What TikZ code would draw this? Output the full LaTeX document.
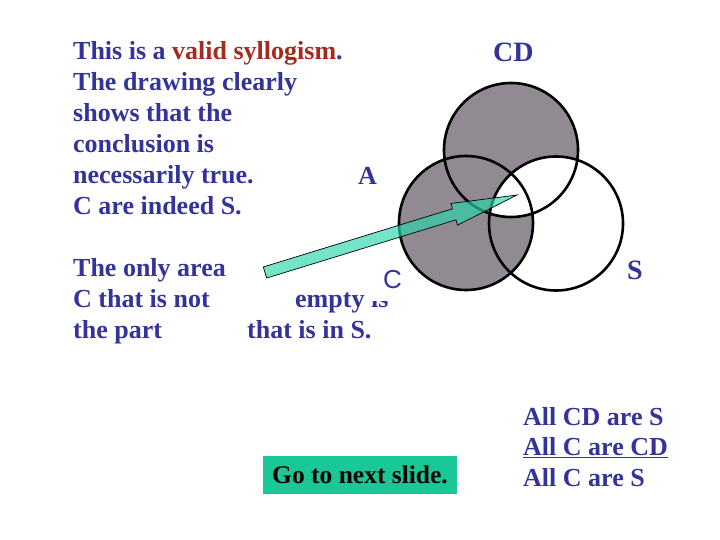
\documentclass[tikz,border=0pt]{standalone}
\usepackage{fontspec}
\setmainfont{Liberation Serif}
\setsansfont{Liberation Sans}
\usetikzlibrary{calc}
\definecolor{txtblue}{RGB}{51,51,153}
\definecolor{txtred}{RGB}{165,42,30}
\definecolor{venngray}{RGB}{146,138,146}
\definecolor{arrowteal}{RGB}{40,214,171}
\definecolor{btngreen}{RGB}{25,200,150}

\begin{document}
\begin{tikzpicture}[x=1bp,y=-1bp,
  txt/.style={text=txtblue,inner sep=0pt,font=\fontsize{26bp}{31bp}\selectfont\bfseries},
  lbl/.style={txt,font=\fontsize{28bp}{31bp}\selectfont\bfseries},
  ring/.style={draw=black,line width=2.6bp}]
  \useasboundingbox (0,0) rectangle (720,540);
  \def\R{67bp}
  % circle centres
  \coordinate (cd) at (511,150);
  \coordinate (c)  at (466,223);
  \coordinate (s)  at (556,223.5);
  % shaded areas
  \fill[venngray] (cd) circle[radius=\R] (c) circle[radius=\R];
  \begin{scope}
    \clip (s) circle[radius=\R];
    \fill[white] (cd) circle[radius=\R];
  \end{scope}
  \draw[ring] (cd) circle[radius=\R] (c) circle[radius=\R] (s) circle[radius=\R];
  % labels of the circles
  \node[lbl,anchor=base west] (labCD) at (493,62) {CD};
  \node[lbl,anchor=base west] (labS) at (627,280) {S};
  % block arrow
  \coordinate (tail) at (265,272.5);
  \coordinate (tip)  at (517,195);
  \coordinate (neck) at ($(tail)!198bp!(tip)$);
  \filldraw[fill=arrowteal,fill opacity=0.65,draw=black,line width=0.7bp]
    ($(tail)!5.8bp!90:(tip)$) -- ($(neck)!5.8bp!90:(tip)$)
    -- ($(neck)!11.3bp!90:(tip)$) -- (tip)
    -- ($(neck)!11.3bp!-90:(tip)$) -- ($(neck)!5.8bp!-90:(tip)$)
    -- ($(tail)!5.8bp!-90:(tip)$) -- cycle;
  % text
  \node[txt,align=left,anchor=north west] (intro) at (73,41.2)
    {This is a \textcolor{txtred}{valid syllogism}.\\The drawing clearly\\
     shows that the\\conclusion is\\necessarily true.\\C are indeed S.};
  \node[txt,anchor=base west] (frA) at (358,185) {A};
  \node[txt,align=left,anchor=north west] (only) at (73,258.2)
    {The only area\\C that is not\\the part};
  \node[txt,anchor=base west] (frEmpty) at (295,307) {empty};
  \node[txt,anchor=base west] (frIs) at (371,307) {is};
  \fill[white] ($(frIs.base west)+(-1,-18)$) rectangle ($(frIs.base east)+(1,-6)$);
  \node[txt,anchor=base west,font=\fontsize{26bp}{31bp}\selectfont\sffamily] (frC) at (383,288) {C};
  \node[txt,anchor=base west] (frIn) at (247,338) {that is in S.};
  \node[txt,align=left,anchor=north west,font=\fontsize{26bp}{30.5bp}\selectfont\bfseries] (prem) at (523,407.2)
    {All CD are S\\\underline{All C are CD}\\All C are S};
  \node[fill=btngreen,inner sep=0pt,minimum width=194bp,minimum height=38bp,
    font=\fontsize{25.5bp}{31bp}\selectfont\bfseries] (next) at (360,475) {Go to next slide.};
\end{tikzpicture}
\end{document}
